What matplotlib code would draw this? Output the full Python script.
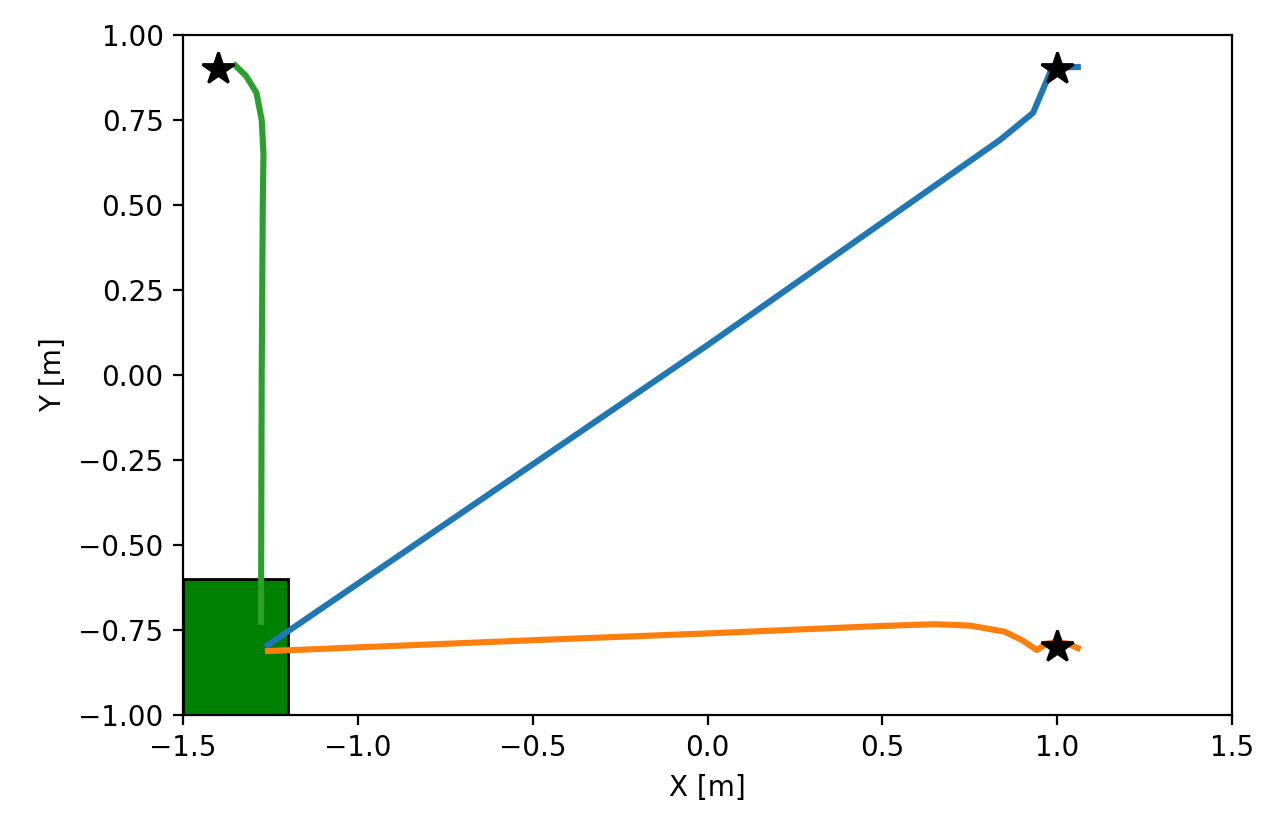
import matplotlib
matplotlib.use("Agg")
import matplotlib.pyplot as plt
from matplotlib.patches import Rectangle

blue_x = [-1.257, 0.0, 0.836, 0.931, 0.971, 0.985, 1.02, 1.059]
blue_y = [-0.794, 0.088, 0.691, 0.771, 0.868, 0.903, 0.905, 0.906]
orange_x = [-1.257, -0.5, 0.0, 0.5, 0.65, 0.75, 0.85, 0.9, 0.942, 0.97, 1.0, 1.03, 1.059]
orange_y = [-0.812, -0.78, -0.76, -0.738, -0.733, -0.737, -0.755, -0.78, -0.809, -0.79, -0.785, -0.79, -0.803]
green_x = [-1.277, -1.275, -1.272, -1.27, -1.275, -1.29, -1.32, -1.35]
green_y = [-0.726, 0.0, 0.5, 0.65, 0.75, 0.83, 0.88, 0.91]
goal_x = [-1.4, 1.0, 1.0]
goal_y = [0.9, 0.9, -0.8]
box = (-1.5, -1.0, 0.3, 0.4)

fig = plt.figure(figsize=(6.4, 4.17), dpi=200)
ax = fig.add_axes([0.143, 0.1427, 0.8195, 0.8153])
ax.add_patch(Rectangle(box[:2], box[2], box[3], facecolor="green", edgecolor="black", linewidth=1))
ax.plot(blue_x, blue_y, color="tab:blue", lw=2.2)
ax.plot(orange_x, orange_y, color="tab:orange", lw=2.2)
ax.plot(green_x, green_y, color="tab:green", lw=2.2)
ax.plot(goal_x, goal_y, "k*", ms=12, ls="none")
ax.set_xlim(-1.5, 1.5)
ax.set_ylim(-1.0, 1.0)
ax.set_xlabel("X [m]")
ax.set_ylabel("Y [m]")
fig.savefig("out.png")
